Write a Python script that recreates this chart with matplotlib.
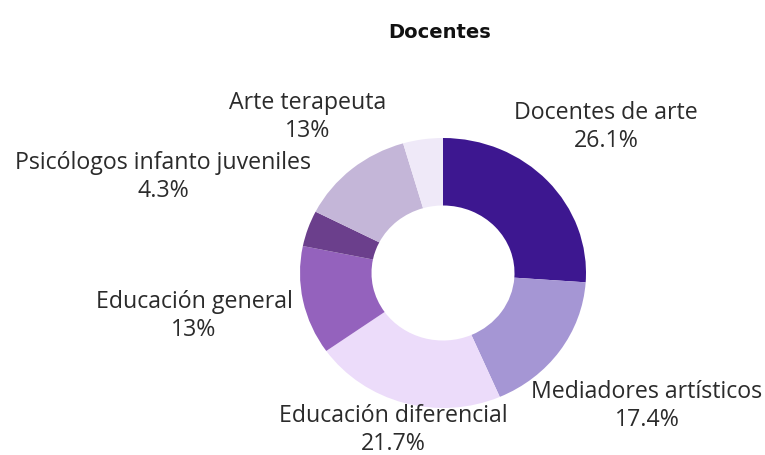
import matplotlib.pyplot as plt

# datos
categorias = ["Docentes de arte", "Mediadores artísticos", "Educación diferencial",
              "Educación general", "Psicólogos infanto juveniles", "Arte terapeuta", ""]
porcentajes = [26.1, 17.4, 21.7, 13.0, 4.3, 13.0, 4.5]
etiquetas_pct = ["26.1%", "17.4%", "21.7%", "13%", "4.3%", "13%", ""]
colores = ["#3d1790", "#a596d4", "#ecdcfa", "#9462bd", "#6b3f8c", "#c4b6d8", "#efe9f8"]

# posicion de las etiquetas (px en la imagen)
pos_px = [(606, 127), (647, 406), (393, 430), (194, 316), (163, 177), (308, 117), None]

W, H = 765, 455
cx, cy = 443, 273
rx, ry = 143, 135

fig = plt.figure(figsize=(W / 100, H / 100), dpi=100)
ax = fig.add_axes([0, 0, 1, 1])
ax.pie(porcentajes, colors=colores, startangle=90, counterclock=False,
       wedgeprops=dict(width=0.5, linewidth=0), radius=1)
ax.set_aspect("auto")
ax.set_xlim(-cx / rx, (W - cx) / rx)
ax.set_ylim(-(H - cy) / ry, cy / ry)
ax.axis("off")

for cat, pct, p in zip(categorias, etiquetas_pct, pos_px):
    if p is None:
        continue
    x = (p[0] - cx) / rx
    y = (cy - p[1]) / ry
    ax.text(x, y, cat + "\n" + pct, ha="center", va="center", multialignment="center",
            fontsize=16.7, family="Open Sans", color="#2b2b2b", linespacing=1.25)

fig.text(440 / W, 1 - 32 / H, "Docentes", ha="center", va="center",
         fontsize=14, fontweight="bold", family="DejaVu Sans", color="#111111")

fig.savefig("out.png", dpi=100)
